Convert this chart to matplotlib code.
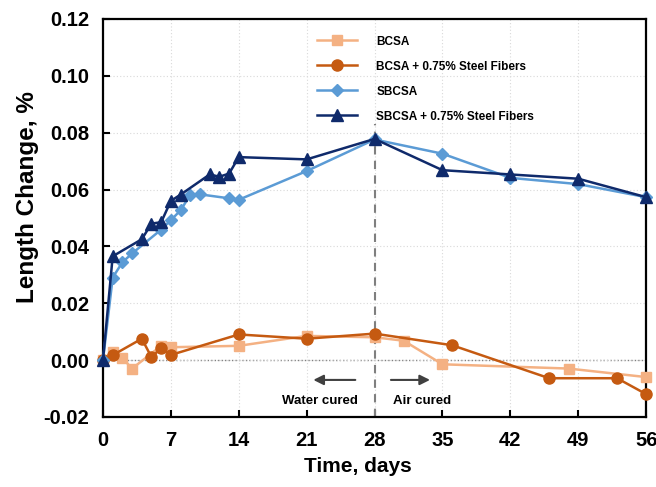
import matplotlib
matplotlib.use("Agg")
import matplotlib.pyplot as plt
from matplotlib.ticker import FormatStrFormatter, MultipleLocator

plt.rcParams["font.family"] = ["Liberation Sans", "DejaVu Sans"]
plt.rcParams["font.weight"] = "bold"
plt.rcParams["axes.unicode_minus"] = False

# Length change (%) versus age (days)
bcsa_days = [0, 1, 2, 3, 6, 7, 14, 21, 28, 31, 35, 48, 56]
bcsa_vals = [0.0, 0.003, 0.0007, -0.003, 0.005, 0.0045, 0.005, 0.0085, 0.008, 0.0068, -0.0015, -0.003, -0.006]

bcsa_sf_days = [0, 1, 4, 5, 6, 7, 14, 21, 28, 36, 46, 53, 56]
bcsa_sf_vals = [0.0, 0.0017, 0.0075, 0.001, 0.0042, 0.0018, 0.009, 0.0075, 0.0093, 0.0052, -0.0064, -0.0064, -0.012]

sbcsa_days = [0, 1, 2, 3, 6, 7, 8, 9, 10, 13, 14, 21, 28, 35, 42, 49, 56]
sbcsa_vals = [0.0, 0.029, 0.0344, 0.0375, 0.0459, 0.0492, 0.0527, 0.0581, 0.0583, 0.0569, 0.0564,
              0.0665, 0.0776, 0.0726, 0.0641, 0.0619, 0.0573]

sbcsa_sf_days = [0, 1, 4, 5, 6, 7, 8, 11, 12, 13, 14, 21, 28, 35, 42, 49, 56]
sbcsa_sf_vals = [0.0, 0.0365, 0.0425, 0.048, 0.0485, 0.056, 0.0582, 0.0653, 0.0645, 0.0656, 0.0714,
                 0.0706, 0.0778, 0.0668, 0.0653, 0.0638, 0.0573]

series = [
    ("BCSA", bcsa_days, bcsa_vals, "#F4B183", "s", 7.5),
    ("BCSA + 0.75% Steel Fibers", bcsa_sf_days, bcsa_sf_vals, "#C55A11", "o", 8),
    ("SBCSA", sbcsa_days, sbcsa_vals, "#5B9BD5", "D", 6),
    ("SBCSA + 0.75% Steel Fibers", sbcsa_sf_days, sbcsa_sf_vals, "#0F2A6B", "^", 8.5),
]

x_ticks = [0, 7, 14, 21, 28, 35, 42, 49, 56]

fig = plt.figure(figsize=(6.56, 4.87), dpi=100)
ax = fig.add_axes([0.157, 0.144, 0.828, 0.817])

for label, d, v, c, m, ms in series:
    ax.plot(d, v, color=c, marker=m, markersize=ms, linewidth=1.8, label=label,
            clip_on=False, zorder=3)

ax.set_xlim(0, 56)
ax.set_ylim(-0.02, 0.12)
ax.set_xticks(x_ticks)
ax.yaxis.set_major_locator(MultipleLocator(0.02))
ax.yaxis.set_major_formatter(FormatStrFormatter("%.2f"))
ax.grid(True, color="#d9d9d9", linestyle=(0, (1, 2)), linewidth=0.8, zorder=0)
ax.axhline(0, color="#808080", linestyle=(0, (1, 1.5)), linewidth=1.0, zorder=1)

# boundary between water curing and air curing
ax.plot([28, 28], [-0.02, 0.083], color="#7f7f7f", linestyle=(0, (4, 3)), linewidth=1.5, zorder=2)

arrow = dict(arrowstyle="-|>,head_length=0.6,head_width=0.3", color="#404040", linewidth=1.5)
ax.annotate("", xy=(21.4, -0.007), xytext=(26.3, -0.007), arrowprops=arrow)
ax.annotate("", xy=(34.0, -0.007), xytext=(29.4, -0.007), arrowprops=arrow)
ax.text(22.4, -0.0143, "Water cured", ha="center", va="center", fontsize=9.5, fontweight="bold")
ax.text(32.9, -0.0143, "Air cured", ha="center", va="center", fontsize=9.5, fontweight="bold")

for s in ax.spines.values():
    s.set_linewidth(1.6)
ax.tick_params(direction="in", length=5, width=1.5, labelsize=14.5, pad=10)
for lab in ax.get_xticklabels() + ax.get_yticklabels():
    lab.set_fontweight("bold")

ax.set_xlabel("Time, days", fontsize=15, fontweight="bold")
ax.set_ylabel("Length Change, %", fontsize=17.5, fontweight="bold")
ax.xaxis.set_label_coords(0.47, -0.102)
ax.yaxis.set_label_coords(-0.118, 0.553)

leg = ax.legend(loc="upper left", bbox_to_anchor=(0.375, 0.985), frameon=False,
                prop={"size": 8.5, "weight": "bold"}, handlelength=3.4,
                labelspacing=1.1, handletextpad=1.6)

fig.savefig("out.png", dpi=100)
